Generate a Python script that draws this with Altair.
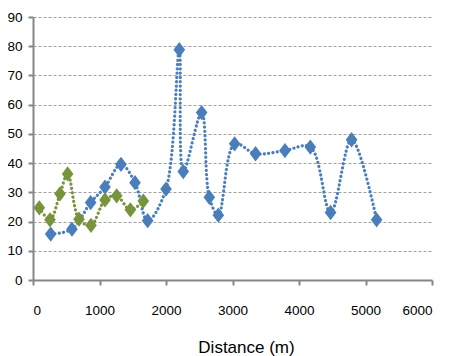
import altair as alt
import pandas as pd

blue_x = [266, 586, 867, 1083, 1323, 1534, 1724, 2000, 2200, 2260, 2536, 2651, 2787,
          3032, 3347, 3789, 4170, 4475, 4791, 5167]
blue_y = [15.7, 17.4, 26.5, 31.8, 39.6, 33.3, 20.3, 31.1, 78.8, 37.1, 57.3, 28.3, 22.2,
          46.6, 43.2, 44.3, 45.5, 23.1, 48.0, 20.6]
green_x = [95, 256, 406, 521, 692, 872, 1083, 1258, 1464, 1659]
green_y = [24.7, 20.6, 29.5, 36.3, 20.8, 18.7, 27.4, 28.8, 24.0, 27.0]

series_names = ["A", "B"]
series_colors = ["#4A7EBB", "#77933C"]
x_ticks = [0, 1000, 2000, 3000, 4000, 5000, 6000]
y_ticks = [0, 10, 20, 30, 40, 50, 60, 70, 80, 90]

df = pd.DataFrame(
    {"x": blue_x + green_x,
     "y": blue_y + green_y,
     "s": [series_names[0]] * len(blue_x) + [series_names[1]] * len(green_x)}
)

x_enc = alt.X("x:Q", scale=alt.Scale(domain=[0, 6000], nice=False),
              axis=alt.Axis(values=x_ticks, tickCount=7,
                            format="d", labelOverlap=False,
                            title="Distance (m)", grid=False,
                            titleFont="Liberation Sans", titleFontSize=17,
                            titleFontWeight="normal", titleColor="#000000",
                            titleX=213, titleY=67, titleAnchor="middle",
                            titleAlign="center", titleBaseline="middle",
                            labelPadding=18, tickSize=5))
y_enc = alt.Y("y:Q", scale=alt.Scale(domain=[0, 90], nice=False),
              axis=alt.Axis(values=y_ticks, tickCount=10, title=None,
                            format="d", labelOverlap=False,
                            grid=True, gridDash=[3, 2], gridColor="#A0A0A0",
                            gridWidth=1, labelPadding=6, tickSize=5))
color_enc = alt.Color("s:N", scale=alt.Scale(domain=series_names, range=series_colors),
                      legend=None)

base = alt.Chart(df)
lines = base.mark_line(interpolate="catmull-rom", strokeDash=[0.1, 4.2],
                       strokeCap="round", strokeWidth=3.2).encode(
    x=x_enc, y=y_enc, color=color_enc, detail="s:N")
points = base.mark_point(shape="M0,-1.25L0.95,0L0,1.25L-0.95,0Z", filled=True,
                         size=150, opacity=1).encode(
    x=x_enc, y=y_enc, color=color_enc)

chart = alt.layer(lines, points).properties(
    width=399, height=263,
    autosize=alt.AutoSizeParams(type="none"),
    padding={"left": 25, "top": 9, "right": 16, "bottom": 76},
    background="white",
).configure_axis(
    domainColor="#868686", domainWidth=2, tickColor="#868686", tickWidth=2,
    labelFont="Liberation Sans", labelFontSize=13.5, labelColor="#000000",
).configure_view(stroke=None)

chart.save("out.html", embed_options={"renderer": "svg", "actions": False})
